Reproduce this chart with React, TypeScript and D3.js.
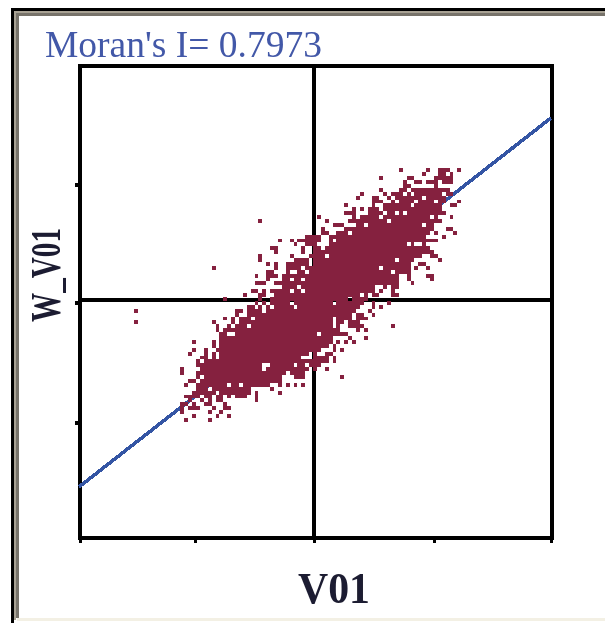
import React from "react";
import * as d3 from "d3";

const TITLE = "Moran's I= 0.7973";
const X_LABEL = "V01";
const Y_LABEL = "W_V01";

// Scatter read off the picture as binned rows: [row, [from, to], [from, to], ...]
// Values are in grid units of V01 (x) and W_V01 (y, growing downward).
type Row = [number, ...[number, number][]];
const cloudRows: Row[] = [
  [-33, [22, 23], [29, 30], [32, 35], [37, 38]],
  [-32, [28, 29], [32, 34], [35, 36]],
  [-31, [17, 18], [24, 26], [31, 36]],
  [-30, [23, 24], [26, 28], [29, 32], [33, 36]],
  [-29, [23, 25], [31, 32]],
  [-28, [17, 18], [22, 24], [25, 35]],
  [-27, [12, 13], [18, 19], [20, 23], [24, 25], [26, 33], [34, 36]],
  [-26, [11, 12], [15, 17], [19, 20], [21, 28], [29, 34]],
  [-25, [15, 18], [20, 21], [22, 26], [27, 31], [32, 34], [37, 38]],
  [-24, [8, 9], [15, 16], [18, 25], [26, 33], [35, 37]],
  [-23, [10, 11], [12, 13], [14, 17], [18, 33]],
  [-22, [8, 11], [14, 18], [19, 21], [22, 23], [24, 34]],
  [-21, [1, 2], [10, 11], [12, 17], [18, 30], [31, 32], [35, 36]],
  [-20, [-14, -13], [3, 4], [9, 19], [20, 33]],
  [-19, [5, 8], [11, 13], [14, 28], [29, 31]],
  [-18, [2, 3], [8, 31], [34, 36]],
  [-17, [2, 4], [6, 9], [10, 30], [31, 32], [36, 37]],
  [-16, [-2, 2], [4, 29], [33, 34]],
  [-15, [-9, -8], [-6, -5], [-4, 2], [4, 5], [6, 32]],
  [-14, [-5, -4], [-2, 1], [4, 24], [25, 26], [28, 29]],
  [-13, [-11, -9], [-3, -2], [0, 2], [3, 30]],
  [-12, [-10, -9], [-3, -2], [0, 31]],
  [-11, [-14, -13], [-6, -5], [-1, 3], [4, 28], [30, 32]],
  [-10, [-14, -13], [-5, -1], [0, 21], [22, 26], [32, 33]],
  [-9, [-12, -11], [-10, -9], [-7, -1], [0, 25], [27, 29]],
  [-8, [-26, -25], [-10, -9], [-7, -3], [-2, 17], [18, 25], [26, 27], [29, 30]],
  [-7, [-12, -10], [-7, -6], [-4, -2], [-1, 20], [21, 25]],
  [-6, [-15, -14], [-12, -9], [-8, 22], [24, 25], [29, 31]],
  [-5, [-12, -11], [-8, -6], [-5, -3], [-2, 22], [24, 25], [30, 31]],
  [-4, [-15, -12], [-10, 22], [25, 26]],
  [-3, [-8, -4], [-3, 16], [18, 19], [20, 22]],
  [-2, [-16, -14], [-13, -12], [-11, -6], [-5, -3], [-2, 16], [17, 18], [20, 21]],
  [-1, [-18, -17], [-14, -12], [-10, 12], [13, 14], [15, 17], [20, 22]],
  [0, [-23, -22], [-14, -13], [-11, 9], [10, 14]],
  [1, [-15, -14], [-13, -12], [-11, -6], [-5, 5], [6, 13], [15, 16], [19, 20]],
  [2, [-17, -15], [-14, -13], [-12, -11], [-10, -5], [-4, 12], [15, 16], [17, 18]],
  [3, [-46, -45], [-20, -18], [-17, -13], [-12, 11], [14, 15]],
  [4, [-20, -19], [-17, 10], [11, 13], [15, 16]],
  [5, [-23, -22], [-21, -20], [-19, -16], [-15, 5], [6, 10], [11, 14]],
  [6, [-46, -45], [-26, -25], [-21, -20], [-19, 5], [6, 8], [9, 12]],
  [7, [-25, -24], [-22, -21], [-20, -17], [-16, 5], [6, 7], [9, 13], [20, 21]],
  [8, [-25, -24], [-23, 7], [11, 12], [13, 14]],
  [9, [-24, -22], [-20, 1], [2, 9]],
  [10, [-24, 5], [9, 10], [13, 14]],
  [11, [-31, -30], [-26, -25], [-24, 5], [6, 7], [8, 9], [10, 11]],
  [12, [-26, -25], [-24, 4], [5, 6]],
  [13, [-31, -30], [-28, -27], [-25, 2], [5, 6], [7, 8]],
  [14, [-32, -31], [-28, -27], [-26, -25], [-24, -1], [0, 1], [3, 5]],
  [15, [-29, -27], [-26, -25], [-24, -3], [0, 4], [5, 6]],
  [16, [-30, -29], [-28, 4], [5, 6]],
  [17, [-30, -13], [-11, -5], [-4, -2], [-1, 2]],
  [18, [-34, -33], [-29, -13], [-12, -1], [0, 1], [3, 4]],
  [19, [-34, -33], [-30, -7], [-6, -2]],
  [20, [-30, -29], [-28, -8], [-5, -2], [7, 8]],
  [21, [-32, -30], [-29, -8]],
  [22, [-33, -32], [-30, -22], [-21, -19], [-18, -11], [-9, -8], [-7, -6], [-5, -4], [-3, -2]],
  [23, [-30, -27], [-26, -16], [-11, -10]],
  [24, [-31, -25], [-24, -16], [-15, -14], [-9, -8]],
  [25, [-33, -29], [-28, -26], [-25, -23], [-22, -21], [-20, -17], [-15, -14]],
  [26, [-32, -31], [-29, -28], [-27, -26], [-25, -23], [-15, -14]],
  [27, [-34, -32], [-31, -30], [-28, -26], [-23, -22]],
  [28, [-34, -33], [-32, -29], [-26, -25], [-23, -21]],
  [29, [-34, -33], [-27, -26], [-24, -23]],
  [30, [-31, -30], [-25, -24], [-22, -21]],
  [31, [-33, -32], [-27, -26]],
];

const xDomain = [-60, 61];
const yDomain = [-59, 62];
const xTicks = [-60, -30.3, 0.2, 30.8, 61];
const yTicks = [-28.7, 1.5, 32.3];
const xCross = 0.2;
const yCross = 0.7;
const lineXs = [-60, 61];
const lineYs = [48.7, -45.9];

const x = d3.scaleLinear().domain(xDomain).range([79, 550.9]);
const y = d3.scaleLinear().domain(yDomain).range([66.9, 538.8]);

const BLACK = "#000";
const BROWN = "#85213f";
const BLUE = "#3455a4";

export default function App() {
  const regLine =
    d3.line<number>()
      .x((d) => x(d))
      .y((_, i) => y(lineYs[i]))(lineXs) ?? "";
  const [x0, x1] = x.range();
  const [y0, y1] = y.range();
  return (
    <svg
      width={605}
      height={623}
      viewBox="0 0 605 623"
      style={{ position: "fixed", left: 0, top: 0, background: "#fff" }}
    >
      <defs>
        <filter id="soft" x="-5%" y="-5%" width="110%" height="110%">
          <feGaussianBlur stdDeviation="0.7" />
        </filter>
      </defs>

      {/* window frame */}
      <rect x={17} y={618} width={588} height={3} fill="#f3f0e4" />
      <rect x={11} y={8} width={594} height={3} fill="#000" />
      <rect x={11} y={8} width={3} height={615} fill="#000" />
      <rect x={14} y={11} width={591} height={2} fill="#a8a294" />
      <rect x={14} y={11} width={2} height={609} fill="#a8a294" />
      <rect x={16} y={13} width={589} height={3} fill="#77736a" />
      <rect x={16} y={13} width={3} height={605} fill="#77736a" />

      <text
        x={45}
        y={57}
        fontFamily="Liberation Serif"
        fontSize={38}
        fill="#4358a8"
        textLength={277}
        lengthAdjust="spacingAndGlyphs"
        filter="url(#soft)"
      >
        {TITLE}
      </text>

      {/* plot box, ticks and quadrant lines */}
      <g stroke={BLACK} fill="none" shapeRendering="crispEdges">
        <rect x={x0 + 1} y={y0 - 0.5} width={x1 - x0} height={y1 - y0 - 0.5} strokeWidth={4} />
        <line x1={x(xCross)} x2={x(xCross)} y1={y0} y2={y1} strokeWidth={4} />
        <line x1={x0} x2={x1 + 2} y1={y(yCross)} y2={y(yCross)} strokeWidth={4} />
        {xTicks.map((t) => (
          <line key={t} x1={x(t) + 1} x2={x(t) + 1} y1={y1} y2={543} strokeWidth={3} />
        ))}
        {yTicks.map((t) => (
          <line key={t} x1={75} x2={x0 + 1} y1={y(t)} y2={y(t)} strokeWidth={4} />
        ))}
      </g>

      <path d={regLine} stroke={BLUE} strokeWidth={3.6} fill="none" shapeRendering="crispEdges" />

      <g fill={BROWN} shapeRendering="crispEdges">
        {cloudRows.map(([row, ...spans]) =>
          spans.map(([from, to]) => (
            <rect
              key={`${row}:${from}`}
              x={x(from)}
              y={y(row)}
              width={x(to) - x(from)}
              height={y(row + 1) - y(row)}
            />
          ))
        )}
      </g>

      <text
        x={298}
        y={603}
        fontFamily="Liberation Serif"
        fontWeight="bold"
        fontSize={44}
        fill="#1c1c30"
        textLength={72}
        lengthAdjust="spacingAndGlyphs"
        filter="url(#soft)"
      >
        {X_LABEL}
      </text>
      <text
        transform="translate(60,322) rotate(-90)"
        fontFamily="Liberation Serif"
        fontWeight="bold"
        fontSize={42}
        fill="#1c1c30"
        textLength={94}
        lengthAdjust="spacingAndGlyphs"
        filter="url(#soft)"
      >
        {Y_LABEL}
      </text>
    </svg>
  );
}
